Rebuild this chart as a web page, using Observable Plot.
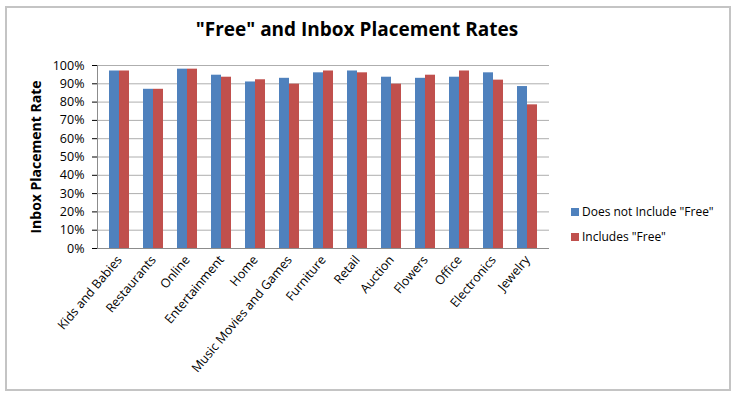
<!DOCTYPE html>
<html>
<head>
<meta charset="utf-8">
<script src="https://cdn.jsdelivr.net/npm/d3@7"></script>
<script src="https://cdn.jsdelivr.net/npm/@observablehq/plot@0.6"></script>
<style>
  html, body { margin: 0; padding: 0; background: #fff; }
  body { width: 741px; height: 395px; position: relative; overflow: hidden; font-family: "Open Sans", "Noto Sans", sans-serif; }
  #frame { position: absolute; left: 5px; top: 6px; width: 722px; height: 381px; border: 2px solid #c4c4c4; box-sizing: content-box; }
  #title { position: absolute; left: 0; width: 714px; top: 16px; text-align: center; font-size: 19px; font-weight: bold; color: #000; }
  #ylabel { position: absolute; left: 35px; top: 157px; transform: translate(-50%, -50%) rotate(-90deg); white-space: nowrap; font-size: 14px; font-weight: bold; color: #000; }
  #legend { position: absolute; left: 571px; top: 199px; font-size: 12px; color: #000; }
  #legend div { display: flex; align-items: center; height: 25px; }
  #legend span.sw { display: inline-block; width: 8px; height: 8px; margin-right: 3px; }
  #chart { position: absolute; left: 0; top: 0; }
</style>
</head>
<body>
<div id="frame"></div>
<div id="chart"></div>
<div id="title">"Free" and Inbox Placement Rates</div>
<div id="ylabel">Inbox Placement Rate</div>
<div id="legend"></div>
<script>
const categories = ["Kids and Babies", "Restaurants", "Online", "Entertainment", "Home", "Music Movies and Games", "Furniture", "Retail", "Auction", "Flowers", "Office", "Electronics", "Jewelry"];
const seriesNames = ['Does not Include "Free"', 'Includes "Free"'];
const seriesColors = ["#4F81BD", "#C0504D"];
const notFree = [0.97, 0.87, 0.98, 0.947, 0.91, 0.93, 0.96, 0.97, 0.936, 0.93, 0.936, 0.96, 0.885];
const withFree = [0.97, 0.87, 0.98, 0.936, 0.922, 0.898, 0.97, 0.96, 0.898, 0.947, 0.97, 0.92, 0.785];
const yTicks = [0, 0.1, 0.2, 0.3, 0.4, 0.5, 0.6, 0.7, 0.8, 0.9, 1.0];

const dataA = categories.map((c, i) => ({category: c, value: notFree[i]}));
const dataB = categories.map((c, i) => ({category: c, value: withFree[i]}));

const W = 741, H = 395, mL = 97, mR = 192, mT = 65, mB = 147;
const pad = 0.425;
const step = (W - mL - mR) / categories.length;
const half = step * (1 - pad) / 2;

const chart = Plot.plot({
  width: W,
  height: H,
  marginLeft: mL,
  marginRight: mR,
  marginTop: mT,
  marginBottom: mB,
  style: {fontFamily: "'Open Sans', 'Noto Sans', sans-serif", fontSize: "12.5px", color: "#000", background: "transparent"},
  x: {domain: categories, paddingInner: pad, paddingOuter: pad / 2, label: null, tickRotate: -50, tickSize: 0, tickPadding: 9},
  y: {domain: [0, 1], ticks: yTicks, tickFormat: d3.format(".0%"), label: null, tickSize: 5, tickPadding: 8},
  marks: [
    Plot.gridY(yTicks, {stroke: "#8c8c8c", strokeOpacity: 0.7}),
    Plot.barY(dataA, {x: "category", y: "value", fill: seriesColors[0], insetRight: half}),
    Plot.barY(dataB, {x: "category", y: "value", fill: seriesColors[1], insetLeft: half}),
    Plot.ruleY([0], {stroke: "#8c8c8c"}),
    Plot.frame({anchor: "left", stroke: "#8c8c8c"})
  ]
});
document.getElementById("chart").appendChild(chart);

const legend = document.getElementById("legend");
seriesNames.forEach((name, i) => {
  const row = document.createElement("div");
  const sw = document.createElement("span");
  sw.className = "sw";
  sw.style.background = seriesColors[i];
  row.appendChild(sw);
  row.appendChild(document.createTextNode(name));
  legend.appendChild(row);
});
</script>
</body>
</html>
